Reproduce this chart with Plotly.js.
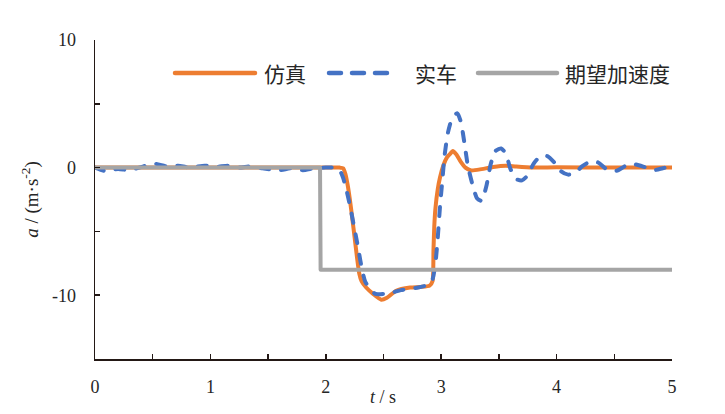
<!DOCTYPE html>
<html>
<head>
<meta charset="utf-8">
<script src="https://cdn.plot.ly/plotly-3.0.1.min.js"></script>
<style>
  html, body { margin: 0; padding: 0; background: #fff; }
  #chart { width: 725px; height: 414px; }
  .scatterlayer .js-line, .shapelayer path { stroke-linecap: round; stroke-linejoin: round; }
</style>
</head>
<body>
<div id="chart"></div>
<script>
// Series names
const seriesNames = ['仿真', '实车', '期望加速度'];

// Simulation response (t in s, a in m/s^2)
const tSim = [0, 1.0, 2.0, 2.12, 2.15, 2.17, 2.19, 2.21, 2.23, 2.25, 2.27, 2.29, 2.31, 2.35, 2.41, 2.48, 2.53, 2.61, 2.73, 2.82, 2.9, 2.925,
  2.933, 2.94, 2.95, 2.97, 2.99, 3.02, 3.05, 3.08, 3.1, 3.13, 3.17, 3.21, 3.26, 3.35, 3.45, 3.56, 3.65, 3.8, 4.0, 4.5, 5.0];
const aSim = [0, 0, 0, 0, -0.05, -0.5, -1.4, -2.6, -4.0, -5.5, -7.0, -8.3, -8.9, -9.4, -9.9, -10.35, -10.2, -9.65, -9.4, -9.35, -9.25, -8.9,
  -6.5, -4.6, -3.2, -1.7, -0.76, 0.2, 0.8, 1.1, 1.3, 1.05, 0.45, 0.0, -0.22, -0.12, 0.05, 0.15, 0.08, 0.0, 0.02, 0.0, 0.0];

// Vehicle test response
const tCar = [0, 0.08, 0.2, 0.3, 0.42, 0.52, 0.62, 0.72, 0.82, 0.95, 1.05, 1.15, 1.25, 1.35, 1.45, 1.6, 1.7, 1.8, 1.9, 2.0, 2.08,
  2.12, 2.15, 2.18, 2.21, 2.24, 2.27, 2.29, 2.31, 2.34, 2.38, 2.43, 2.5, 2.57, 2.65, 2.72, 2.8, 2.88, 2.92, 2.95, 2.97, 2.99,
  3.01, 3.03, 3.06, 3.1, 3.14, 3.17, 3.2, 3.23, 3.27, 3.31, 3.35, 3.39, 3.43, 3.47, 3.52, 3.56, 3.6, 3.65, 3.7, 3.75, 3.8,
  3.86, 3.92, 3.98, 4.04, 4.1, 4.16, 4.22, 4.3, 4.36, 4.43, 4.52, 4.6, 4.68, 4.76, 4.84, 4.92, 5.0];
const aCar = [0, -0.25, -0.1, -0.2, 0.1, 0.3, 0.1, 0.15, 0.0, 0.15, 0.05, 0.15, 0.0, 0.1, -0.05, -0.2, -0.05, -0.2, -0.05, 0.0, 0.0,
  -0.2, -0.8, -1.8, -3.0, -4.4, -5.8, -6.8, -7.8, -8.9, -9.5, -9.9, -9.9, -9.8, -9.6, -9.5, -9.4, -9.2, -8.9, -7.5, -5.5, -3.0,
  -1.0, 1.0, 2.8, 4.0, 4.25, 3.6, 2.0, 0.2, -1.3, -2.4, -2.6, -1.5, 0.3, 1.3, 1.5, 1.1, -0.1, -0.9, -1.0, -0.6, 0.3,
  0.9, 0.9, 0.4, -0.3, -0.55, -0.45, 0.1, 0.5, 0.4, -0.1, -0.25, 0.15, 0.25, 0.05, -0.2, -0.05, 0.1];

// Desired acceleration command
const tDes = [0, 1.95, 1.955, 5];
const aDes = [0, 0, -8, -8];

// Axis ticks
const xTickVals = [0, 0.5, 1, 1.5, 2, 2.5, 3, 3.5, 4, 4.5, 5];
const xTickText = ['0', '', '1', '', '2', '', '3', '', '4', '', '5'];
const yTickVals = [-15, -10, -5, 0, 5, 10];
const yTickText = ['', '-10', '', '0', '', '10'];

const colors = ['#ED7D31', '#4472C4', '#A5A5A5'];
const axisColor = '#231815';
const textColor = '#262626';
const serif = '"Liberation Serif", "Times New Roman", serif';
const cjk = '"Noto Sans CJK SC", sans-serif';

const W = 725, H = 414;
const M = { l: 95, r: 53, t: 40, b: 55 };
const px = x => (x - M.l) / (W - M.l - M.r);
const py = y => (H - M.b - y) / (H - M.t - M.b);

const traces = [
  { x: tSim, y: aSim, name: seriesNames[0], mode: 'lines', line: { color: colors[0], width: 4, shape: 'spline', smoothing: 0.6 } },
  { x: tCar, y: aCar, name: seriesNames[1], mode: 'lines', line: { color: colors[1], width: 4, dash: '9px,12px', shape: 'spline', smoothing: 0.6 } },
  { x: tDes, y: aDes, name: seriesNames[2], mode: 'lines', line: { color: colors[2], width: 4 } }
];

// Legend drawn as sample lines with labels
const legendY = 73;
const legendItems = [
  { x0: 175, x1: 255, tx: 262, dash: 'solid' },
  { x0: 329, x1: 393, tx: 413, dash: '12px,11px' },
  { x0: 478, x1: 557, tx: 563, dash: 'solid' }
];
const shapes = legendItems.map((it, i) => ({
  type: 'line', xref: 'paper', yref: 'paper',
  x0: px(it.x0), x1: px(it.x1), y0: py(legendY), y1: py(legendY),
  line: { color: colors[i], width: 4.5, dash: it.dash }
}));
const annotations = legendItems.map((it, i) => ({
  xref: 'paper', yref: 'paper', x: px(it.tx), y: py(legendY),
  xanchor: 'left', yanchor: 'middle', showarrow: false,
  text: seriesNames[i], font: { family: cjk, size: 21, color: textColor }
}));
annotations.push({
  xref: 'paper', yref: 'paper', x: px(383), y: py(397),
  xanchor: 'center', yanchor: 'middle', showarrow: false,
  text: '<i>t</i> / s', font: { family: serif, size: 18, color: textColor }
});

const layout = {
  width: W, height: H,
  margin: M,
  paper_bgcolor: '#fff', plot_bgcolor: '#fff',
  showlegend: false,
  font: { family: serif, size: 18, color: textColor },
  xaxis: {
    range: [0, 5], tickmode: 'array', tickvals: xTickVals, ticktext: xTickText,
    ticks: 'inside', ticklen: 5, tickwidth: 1.5, tickcolor: axisColor,
    showline: true, linecolor: axisColor, linewidth: 1.5,
    showgrid: false, zeroline: false, ticklabelstandoff: 11,
    tickfont: { family: serif, size: 18, color: textColor }
  },
  yaxis: {
    range: [-15, 10], tickmode: 'array', tickvals: yTickVals, ticktext: yTickText,
    ticks: 'inside', ticklen: 5, tickwidth: 1.5, tickcolor: axisColor,
    showline: true, linecolor: axisColor, linewidth: 1.5,
    showgrid: false, zeroline: false, ticklabelstandoff: 14,
    tickfont: { family: serif, size: 18, color: textColor },
    title: { text: '<i>a</i> / (m·s<sup>-2</sup>)', font: { family: serif, size: 19, color: textColor }, standoff: 8 }
  },
  shapes: shapes,
  annotations: annotations
};

Plotly.newPlot('chart', traces, layout, { displayModeBar: false, staticPlot: true });
</script>
</body>
</html>
